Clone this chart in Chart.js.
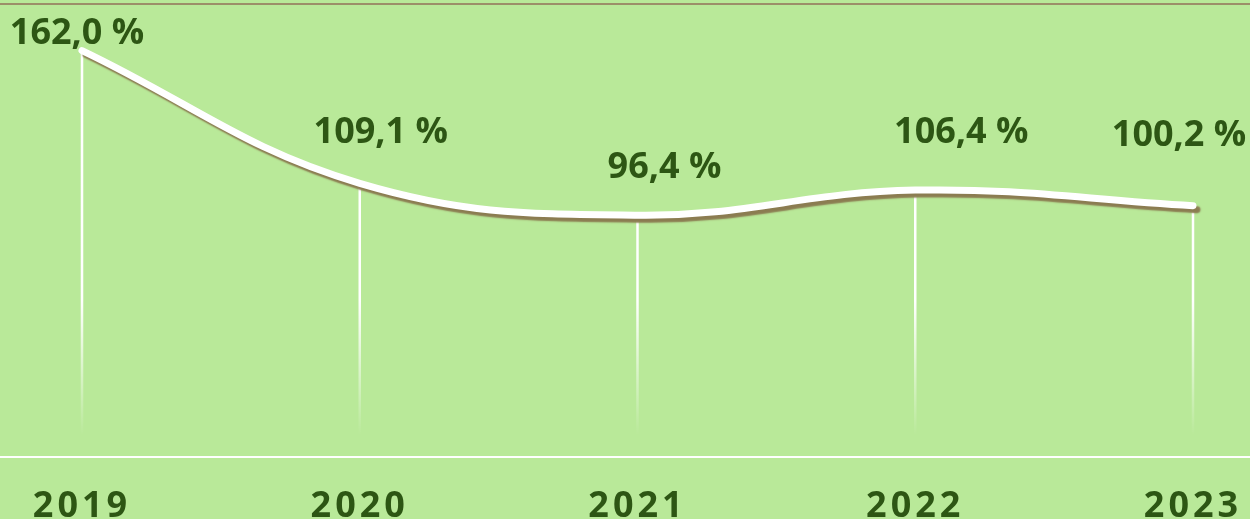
<!DOCTYPE html>
<html>
<head>
<meta charset="utf-8">
<script src="https://cdn.jsdelivr.net/npm/chart.js@4.4.1/dist/chart.umd.min.js"></script>
<style>
  html, body { margin: 0; padding: 0; background: #b9e999; }
  #wrap { width: 1250px; height: 519px; position: relative; }
</style>
</head>
<body>
<div id="wrap"><canvas id="id_graph"></canvas></div>
<script>
// data
var years = ['2019', '2020', '2021', '2022', '2023'];
var values = [162.0, 109.1, 96.4, 106.4, 100.2];
var yMin = 0;
var yMax = 175;

// manual label placement (dx, dy of text baseline from the point)
var labelShift = [[-5, -7], [21, -40], [27, -37], [46, -47], [-14, -60]];

var textColor = '#2d5614';

function fmt(v) {
  return v.toFixed(1).replace('.', ',') + ' %';
}

var decor = {
  id: 'decor',
  beforeDraw: function (chart) {
    var ctx = chart.ctx;
    ctx.save();
    ctx.fillStyle = '#b9e999';
    ctx.fillRect(0, 0, chart.width, chart.height);
    // top frame line
    ctx.fillStyle = '#9c8f69';
    ctx.fillRect(0, 3, chart.width, 2);
    // white base line over full width
    var y0 = chart.scales.y.getPixelForValue(0);
    ctx.fillStyle = '#ffffff';
    ctx.fillRect(0, Math.round(y0) - 1, chart.width, 2);
    ctx.restore();
    // spaced-out year labels
    ctx.letterSpacing = '4px';
  },
  beforeDatasetsDraw: function (chart) {
    var ctx = chart.ctx;
    ctx.letterSpacing = '0px';
    var meta = chart.getDatasetMeta(0);
    var grad = ctx.createLinearGradient(0, 300, 0, 435);
    grad.addColorStop(0, 'rgba(255,255,255,1)');
    grad.addColorStop(1, 'rgba(255,255,255,0)');
    ctx.save();
    ctx.strokeStyle = grad;
    ctx.lineWidth = 2.5;
    meta.data.forEach(function (pt) {
      ctx.beginPath();
      ctx.moveTo(pt.x, pt.y);
      ctx.lineTo(pt.x, 435);
      ctx.stroke();
    });
    ctx.restore();
    // shadow under the line
    ctx.save();
    ctx.shadowColor = '#8b7c51';
    ctx.shadowOffsetX = 4;
    ctx.shadowOffsetY = 4;
    ctx.shadowBlur = 1.5;
  },
  afterDatasetsDraw: function (chart) {
    var ctx = chart.ctx;
    ctx.restore();
    var meta = chart.getDatasetMeta(0);
    ctx.save();
    ctx.font = 'bold 36px "Open Sans"';
    ctx.fillStyle = textColor;
    ctx.textAlign = 'center';
    ctx.textBaseline = 'alphabetic';
    meta.data.forEach(function (pt, i) {
      ctx.fillText(fmt(values[i]), pt.x + labelShift[i][0], pt.y + labelShift[i][1]);
    });
    ctx.restore();
  }
};

var ctx = document.getElementById('id_graph').getContext('2d');
new Chart(ctx, {
  type: 'line',
  data: {
    labels: years,
    datasets: [{
      data: values,
      borderColor: '#ffffff',
      borderWidth: 7,
      borderCapStyle: 'round',
      borderJoinStyle: 'round',
      pointRadius: 0,
      tension: 0.4,
      fill: false,
      clip: false
    }]
  },
  options: {
    responsive: true,
    maintainAspectRatio: false,
    animation: false,
    layout: { padding: { left: 82, right: 57, top: 18, bottom: 0 } },
    plugins: { legend: { display: false }, tooltip: { enabled: false } },
    scales: {
      x: {
        grid: { display: false },
        border: { display: false },
        ticks: {
          color: textColor,
          font: { family: 'Open Sans', size: 36, weight: 'bold' },
          padding: 20,
          maxRotation: 0,
          autoSkip: false
        },
        afterFit: function (scale) {
          scale.height = 62;
          scale.paddingLeft = 0;
          scale.paddingRight = 0;
        }
      },
      y: {
        display: false,
        min: yMin,
        max: yMax
      }
    }
  },
  plugins: [decor]
});
</script>
</body>
</html>
